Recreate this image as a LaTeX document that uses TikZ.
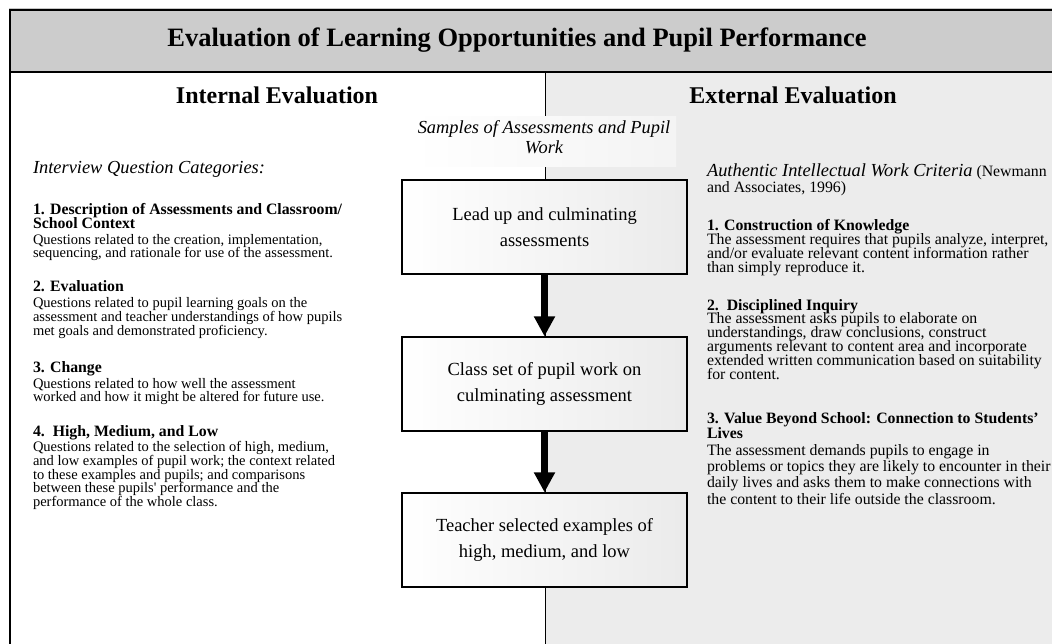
\documentclass[tikz,border=0pt]{standalone}
\usepackage{fontspec}
\setmainfont{Liberation Serif}
\usetikzlibrary{arrows.meta}
\definecolor{titlegray}{HTML}{CCCCCC}
\definecolor{panelgray}{HTML}{ECECEC}
\newcommand\leftbody{\fontsize{14.5}{13.6}\selectfont\lineskiplimit=-100pt\relax}
\newcommand\rightbody{\fontsize{15.8}{13.9}\selectfont\lineskiplimit=-100pt\relax}
\newcommand\hd[1]{{\fontsize{15.8}{13.6}\selectfont\bfseries #1}}
\newcommand\lpara[1]{\parbox[t]{340pt}{\raggedright\leftbody #1}}
\newcommand\rpara[1]{\parbox[t]{400pt}{\raggedright\rightbody #1}}
\begin{document}
\begin{tikzpicture}[x=1pt,y=-1pt,
  txt/.style={inner sep=0pt, outer sep=0pt, text=black},
  stepbox/.style={draw, line width=1.3pt, minimum width=285pt, minimum height=94pt,
    left color=white, right color=gray!16, align=center,
    font=\fontsize{18.5}{26}\selectfont},
  flowarrow/.style={line width=6.5pt, -{Triangle[width=20pt,length=20pt]}},
  frameline/.style={line width=2pt},
  heading/.style={font=\fontsize{24}{28}\selectfont\bfseries, inner sep=0pt}]
\useasboundingbox (0,0) rectangle (1052,644);
% backgrounds
\fill[white] (0,0) rectangle (1052,644);
\fill[panelgray] (545.5,72) rectangle (1052,644);
\fill[titlegray] (10.3,10) rectangle (1052,71.8);
\draw[gray!45, line width=0.8pt] (9,8.2) -- (1052,8.2);
\draw[frameline] (1052,10) -- (10.3,10) -- (10.3,644);
\draw[frameline] (10.3,71.8) -- (1052,71.8);
% divider
\coordinate (dtop) at (545.5,72.8);
\coordinate (dbot) at (545.5,644);
\draw[line width=1.5pt] (dtop) -- (dbot);
% title and headings
\node[font=\fontsize{26.5}{30}\selectfont\bfseries, inner sep=0pt] (title) at (517,40)
  {Evaluation of Learning Opportunities and Pupil Performance};
\node[heading] (intl) at (277,95) {Internal Evaluation};
\node[heading] (extl) at (793,95) {External Evaluation};
% samples label
\shade[left color=white, right color=gray!9] (413,117) rectangle (676,167);
\node[inner sep=0pt, align=center, font=\fontsize{18.4}{20}\selectfont\itshape] (lbl) at (544,137)
  {Samples of Assessments and Pupil\\Work};
% flow boxes
\node[stepbox] (b1) at (544.5,227) {Lead up and culminating\\assessments};
\node[stepbox] (b2) at (544.5,384) {Class set of pupil work on\\culminating assessment};
\node[stepbox] (b3) at (544.5,540) {Teacher selected examples of\\high, medium, and low};
\draw[flowarrow] (b1.south) -- (b2.north);
\draw[flowarrow] (b2.south) -- (b3.north);
% left column
\node[txt, anchor=base west] (l0) at (33,174)
  {\fontsize{18.4}{20}\selectfont\itshape Interview Question Categories:};
\node[txt, anchor=base west] (l1) at (33,214.5) {\lpara{%
  \hd{1. Description of Assessments and Classroom/}\\[0.4pt]
  \hd{School Context}\\[2.3pt]
  Questions related to the creation, implementation,\\
  sequencing, and rationale for use of the assessment.}};
\node[txt, anchor=base west] (l2) at (33,292) {\lpara{%
  \hd{2. Evaluation}\\[2.4pt]
  Questions related to pupil learning goals on the\\
  assessment and teacher understandings of how pupils\\
  met goals and demonstrated proficiency.}};
\node[txt, anchor=base west] (l3) at (33,372) {\lpara{%
  \hd{3. Change}\\[2.4pt]
  Questions related to how well the assessment\\
  worked and how it might be altered for future use.}};
\node[txt, anchor=base west] (l4) at (33,436) {\lpara{%
  \hd{4.\ \ High, Medium, and Low}\\[2.2pt]
  Questions related to the selection of high, medium,\\
  and low examples of pupil work; the context related\\
  to these examples and pupils; and comparisons\\
  between these pupils\textquotesingle\ performance and the\\
  performance of the whole class.}};
% right column
\node[txt, anchor=base west] (r0) at (707,177) {\rpara{%
  {\fontsize{18.4}{13.9}\selectfont\itshape Authentic Intellectual Work Criteria} (Newmann\\[2.1pt]
  and Associates, 1996)}};
\node[txt, anchor=base west] (r1) at (707,231) {\rpara{%
  \textbf{1. Construction of Knowledge}\\
  The assessment requires that pupils analyze, interpret,\\
  and/or evaluate relevant content information rather\\
  than simply reproduce it.}};
\node[txt, anchor=base west] (r2) at (707,310) {\rpara{%
  \textbf{2.\ \ Disciplined Inquiry}\\
  The assessment asks pupils to elaborate on\\
  understandings, draw conclusions, construct\\
  arguments relevant to content area and incorporate\\
  extended written communication based on suitability\\
  for content.}};
\node[txt, anchor=base west] (r3) at (707,423) {\parbox[t]{400pt}{\raggedright
  \fontsize{15.8}{15.8}\selectfont\lineskiplimit=-100pt\relax
  \textbf{3. Value Beyond School: Connection to Students’}\\[-0.5pt]
  \textbf{Lives}\\[1.5pt]
  The assessment demands pupils to engage in\\
  problems or topics they are likely to encounter in their\\
  daily lives and asks them to make connections with\\[1.5pt]
  the content to their life outside the classroom.}};
\end{tikzpicture}
\end{document}
